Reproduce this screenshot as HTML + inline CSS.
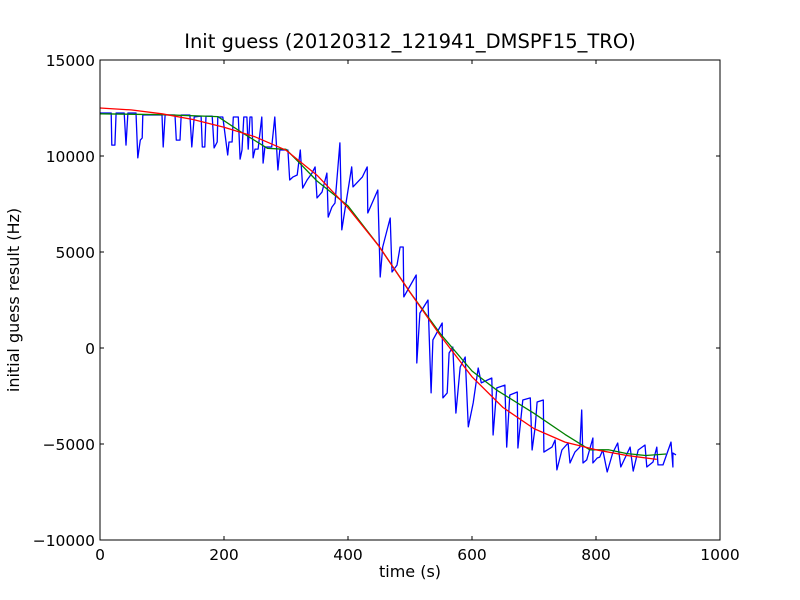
<!DOCTYPE html>
<html><head><meta charset="utf-8"><style>
body{margin:0;background:#fff;}
svg{display:block;font-family:"DejaVu Sans","Liberation Sans",sans-serif;}
</style></head><body>
<svg id="chart" width="800" height="600" xmlns="http://www.w3.org/2000/svg">
<rect width="800" height="600" fill="#fff"/>
<g id="plot"></g>
<text x="410" y="48" font-size="19.5" text-anchor="middle">Init guess (20120312_121941_DMSPF15_TRO)</text>
<text x="410" y="577" font-size="16" text-anchor="middle">time (s)</text>
<text x="19" y="300" font-size="16" text-anchor="middle" transform="rotate(-90 19 300)">initial guess result (Hz)</text>
</svg>
<script>
const xTicks=[0,200,400,600,800,1000];
const yTicks=[15000,10000,5000,0,-5000,-10000];
const yTickLabels=["15000","10000","5000","0","\u22125000","\u221210000"];
const blueT=[0,18,19,24,26,39,42,45,58,61,65,68,69,100,102,105,121,123,129,131,145,148,152,163,165,169,171,181,184,189,190,198,206,208,213,215,223,226,229,232,237,239,242,245,247,250,255,261,263,266,277,282,287,290,303,306,311,318,323,327,334,342,347,350,358,366,368,374,379,387,390,395,406,408,423,431,432,448,452,456,468,471,479,484,489,490,510,511,516,529,534,537,552,553,560,563,569,574,581,589,594,602,610,615,632,634,640,653,656,661,673,674,682,694,697,702,705,715,716,729,734,737,745,755,758,766,774,777,779,785,795,795,802,806,811,818,827,835,840,855,860,868,879,882,892,898,900,908,921,924,924,929];
const blueHz=[12240,12240,10570,10570,12240,12240,10570,12240,12240,9900,10830,10940,12135,12135,10470,12135,12135,10830,10830,12135,12135,10470,12030,12080,10470,10470,12080,12080,10420,10730,12030,12030,10050,10730,10730,12030,12030,9840,10310,12030,12030,10360,12030,12030,9900,10360,10360,12030,9630,10470,10470,12030,9270,10310,10310,8750,8900,9010,10310,8330,8750,9110,9430,7810,8120,9110,6820,7340,7550,10680,6150,7190,9430,8390,8900,9430,7030,8230,3700,5260,6770,3960,4320,5260,5260,2660,3800,-780,1820,2500,-2340,420,1300,-2600,-2340,-260,50,-3390,-990,-470,-4110,-2860,-1040,-1820,-1560,-4530,-2080,-1930,-5160,-2450,-2290,-5210,-2710,-2600,-5310,-4110,-2810,-2710,-5420,-5160,-4790,-6350,-5310,-4950,-5990,-5420,-5160,-3230,-5990,-5830,-4690,-5990,-5730,-5680,-5310,-6460,-5470,-4950,-6200,-5160,-6410,-5310,-5050,-6200,-5940,-5160,-6090,-6090,-4900,-6200,-5470,-5570];
const greenT=[0,100,190,230,270,300,320,350,400,450,500,550,600,640,700,750,790,820,850,880,913];
const greenHz=[12200,12150,12050,11200,10400,10350,9700,8700,7400,5300,2900,700,-1200,-2200,-3400,-4500,-5300,-5300,-5500,-5600,-5520];
const redT=[0,50,100,150,200,250,300,350,400,450,500,550,600,650,700,750,800,850,898];
const redHz=[12500,12400,12200,11900,11500,11000,10300,9000,7300,5300,2900,600,-1500,-3100,-4200,-4900,-5300,-5600,-5800];
const X0=100,X1=720,Y0=60,Y1=540;
const xs=t=>X0+(t-0)/1000*(X1-X0);
const ys=v=>Y1-(v+10000)/25000*(Y1-Y0);
const NS="http://www.w3.org/2000/svg";
const g=document.getElementById('plot');
function mk(tag,attrs){const e=document.createElementNS(NS,tag);for(const k in attrs)e.setAttribute(k,attrs[k]);g.appendChild(e);return e;}
function line(T,V,color,name){
  const d=T.map((t,i)=>(i?'L':'M')+xs(t).toFixed(1)+' '+ys(V[i]).toFixed(1)).join(' ');
  const p=mk('path',{d:d,fill:'none',stroke:color,'stroke-width':1.3,'stroke-linejoin':'round'});
  
  
}
line(blueT,blueHz,'#0000ff','blue-series');
line(greenT,greenHz,'#008000','green-series');
line(redT,redHz,'#ff0000','red-series');
const frame=mk('rect',{x:X0,y:Y0,width:X1-X0,height:Y1-Y0,fill:'none',stroke:'#000','stroke-width':1});


xTicks.forEach(t=>{
  const x=xs(t);
  mk('line',{x1:x,x2:x,y1:Y1,y2:Y1-4,stroke:'#000'});
  mk('line',{x1:x,x2:x,y1:Y0,y2:Y0+4,stroke:'#000'});
  const tx=mk('text',{x:x,y:Y1+20,'font-size':15.5,'text-anchor':'middle'});
  tx.textContent=String(t);
  
  
});
yTicks.forEach((v,i)=>{
  const y=ys(v);
  mk('line',{x1:X0,x2:X0+4,y1:y,y2:y,stroke:'#000'});
  mk('line',{x1:X1,x2:X1-4,y1:y,y2:y,stroke:'#000'});
  const tx=mk('text',{x:X0-5,y:y+6,'font-size':15.5,'text-anchor':'end'});
  tx.textContent=yTickLabels[i];
  
  
});
</script>
</body></html>
